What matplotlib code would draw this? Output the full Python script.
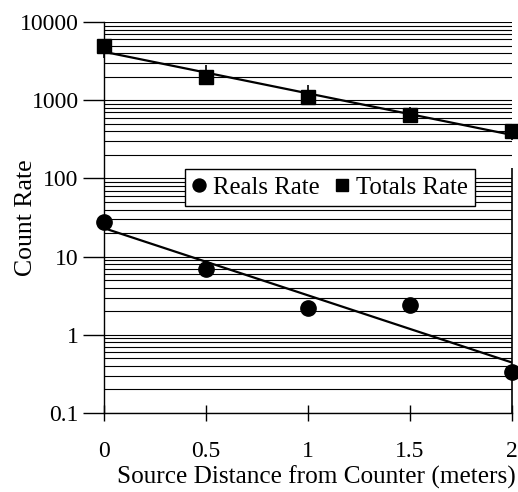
import numpy as np
import matplotlib
matplotlib.use("Agg")
import matplotlib.pyplot as plt
from matplotlib.ticker import LogLocator, FixedLocator, NullFormatter

plt.rcParams['font.family'] = ['Liberation Serif', 'DejaVu Serif']
plt.rcParams['font.size'] = 17

# Source distance (m) and measured count rates
distance = [0, 0.5, 1, 1.5, 2]
reals_rate = [27.7, 6.95, 2.2, 2.4, 0.334]
totals_rate = [4930, 1980, 1100, 646, 404]
totals_err_lo = [1460, 0, 0, 0, 94]
totals_err_hi = [0, 830, 460, 171, 0]
reals_err_lo = [0, 0, 0, 0, 0.234]
reals_err_hi = [0, 0, 0, 0, 136]

fig = plt.figure(figsize=(5.18, 4.92), dpi=100)
ax = fig.add_axes([0.2, 0.1606, 0.788, 0.7944])
ax.set_yscale('log')
ax.set_xlim(0, 2)
ax.set_ylim(0.1, 10000)

# exponential trendlines (straight lines on the log axis)
xs = np.linspace(0, 2, 50)
for rate in (totals_rate, reals_rate):
    k, b = np.polyfit(distance, np.log10(rate), 1)
    ax.plot(xs, 10 ** (k * xs + b), color='black', lw=1.6, zorder=3)

eb1 = ax.errorbar(distance, totals_rate, yerr=[totals_err_lo, totals_err_hi],
                  fmt='none', ecolor='black', elinewidth=1.2, capsize=0, zorder=3)
eb2 = ax.errorbar(distance, reals_rate, yerr=[reals_err_lo, reals_err_hi],
                  fmt='none', ecolor='black', elinewidth=1.2, capsize=0, zorder=3)
for eb in (eb1, eb2):
    for coll in eb.lines[2]:
        coll.set_clip_on(False)

ax.plot(distance, reals_rate, 'o', color='black', ms=11, clip_on=False,
        zorder=4, label='Reals Rate')
ax.plot(distance, totals_rate, 's', color='black', ms=10.5, clip_on=False,
        zorder=4, label='Totals Rate')

ax.yaxis.set_minor_locator(LogLocator(base=10, subs=np.arange(2, 10), numticks=10))
ax.yaxis.set_minor_formatter(NullFormatter())
ax.set_yticks([0.1, 1, 10, 100, 1000, 10000])
ax.set_yticklabels(['0.1', '1', '10', '100', '1000', '10000'])
ax.xaxis.set_major_locator(FixedLocator(distance))
ax.set_xticklabels(['0', '0.5', '1', '1.5', '2'])

ax.grid(True, which='both', axis='y', color='black', lw=0.8)
ax.set_axisbelow(True)
ax.tick_params(axis='y', which='major', direction='out', length=15, width=1, pad=3)
ax.tick_params(axis='y', which='minor', length=0)
ax.tick_params(axis='x', direction='inout', length=12, width=1, pad=14)

for side in ('top', 'right'):
    ax.spines[side].set_visible(False)
for side in ('left', 'bottom'):
    ax.spines[side].set_linewidth(1)

ax.set_ylabel('Count Rate', fontsize=18.5)
ax.yaxis.set_label_coords(-0.163, 0.5)
ax.set_xlabel('Source Distance from Counter (meters)', fontsize=18.2)
ax.xaxis.set_label_coords(0.522, -0.135)

leg = ax.legend(loc='center', bbox_to_anchor=(0.554, 0.577), ncol=2,
                frameon=True, fancybox=False, edgecolor='black', fontsize=17.8,
                handlelength=0.6, handletextpad=0.25, columnspacing=0.6,
                borderpad=0.3, markerscale=0.85)
leg.get_frame().set_linewidth(1)
leg.get_frame().set_alpha(1)

fig.savefig('out.png', dpi=100)
